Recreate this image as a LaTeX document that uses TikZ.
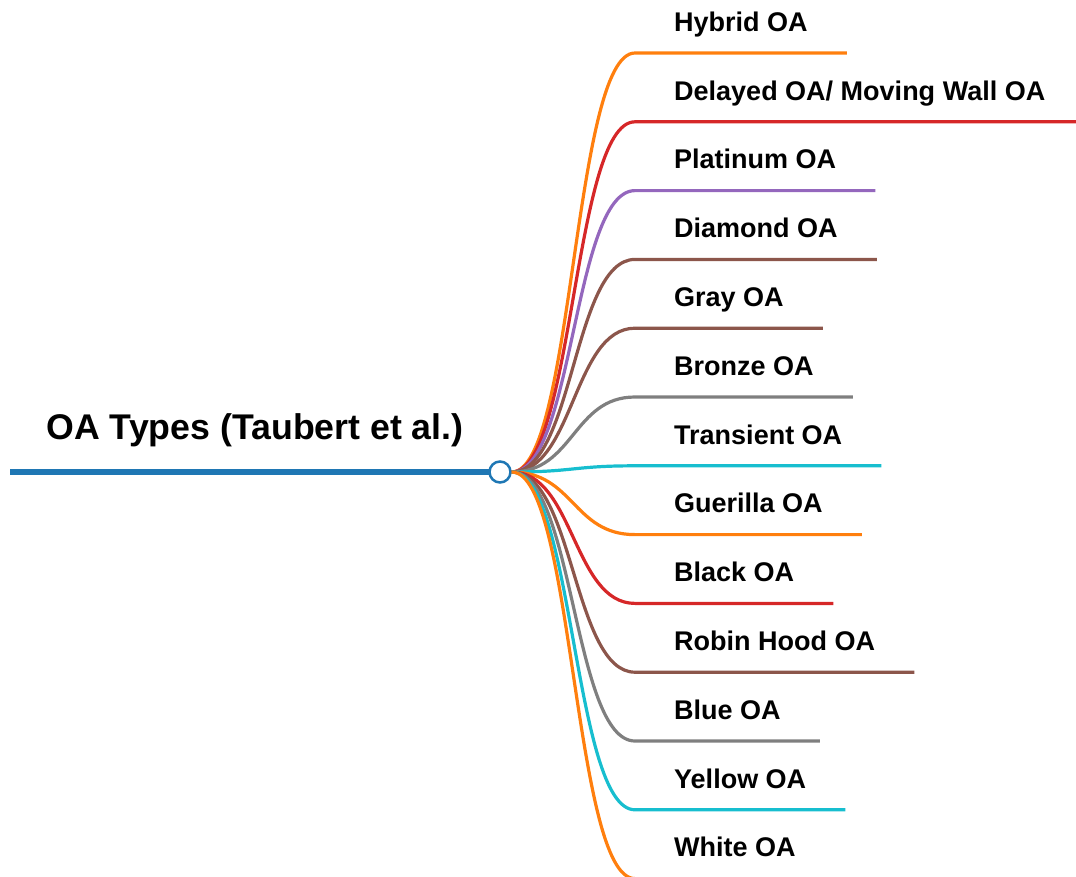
\documentclass[tikz,border=0pt]{standalone}
\usepackage{fontspec}
\setmainfont{Liberation Sans}
\definecolor{mapblue}{HTML}{1F77B4}
\definecolor{maporange}{HTML}{FF7F0E}
\definecolor{mapred}{HTML}{D62728}
\definecolor{mappurple}{HTML}{9467BD}
\definecolor{mapbrown}{HTML}{8C564B}
\definecolor{mapgray}{HTML}{7F7F7F}
\definecolor{mapcyan}{HTML}{17BECF}
\begin{document}
\begin{tikzpicture}[x=1pt,y=-1pt,
leaf/.style={anchor=south west,inner xsep=39pt,inner ysep=16pt,text height=19.5pt,text depth=5.5pt,
  font=\fontsize{27}{30}\selectfont\bfseries},
branch/.style={line width=3.2pt},
hub/.style={draw=mapblue,fill=white,circle,line width=2.5pt,minimum size=21pt,inner sep=0pt},
rootline/.style={draw=mapblue,line width=6.5pt},
title/.style={font=\fontsize{35.7}{40}\selectfont\bfseries}]
\useasboundingbox (0,0) rectangle (1076,876);
\coordinate (rootstart) at (10,472);
\draw[rootline] (rootstart) -- (490,472);
\node[hub] (hub) at (500,472) {};
\node[title] (title) at (255,430) {OA Types (Taubert et al.)};
% leaves
\node[leaf] (hybrid) at (635,53) {Hybrid OA};
\node[leaf] (delayed) at (635,121.8) {Delayed OA/ Moving Wall OA};
\node[leaf] (platinum) at (635,190.6) {Platinum OA};
\node[leaf] (diamond) at (635,259.4) {Diamond OA};
\node[leaf] (gray) at (635,328.2) {Gray OA};
\node[leaf] (bronze) at (635,397) {Bronze OA};
\node[leaf] (transient) at (635,465.8) {Transient OA};
\node[leaf] (guerilla) at (635,534.6) {Guerilla OA};
\node[leaf] (black) at (635,603.4) {Black OA};
\node[leaf] (robin) at (635,672.2) {Robin Hood OA};
\node[leaf] (blue) at (635,741) {Blue OA};
\node[leaf] (yellow) at (635,809.8) {Yellow OA};
\node[leaf] (white) at (635,878.6) {White OA};
% branches
\draw[branch,maporange] (hub.east) .. controls +(62,0) and +(-62,0) .. (hybrid.south west) -- (hybrid.south east);
\draw[branch,mapred] (hub.east) .. controls +(62,0) and +(-62,0) .. (delayed.south west) -- (delayed.south east);
\draw[branch,mappurple] (hub.east) .. controls +(62,0) and +(-62,0) .. (platinum.south west) -- (platinum.south east);
\draw[branch,mapbrown] (hub.east) .. controls +(62,0) and +(-62,0) .. (diamond.south west) -- (diamond.south east);
\draw[branch,mapbrown] (hub.east) .. controls +(62,0) and +(-62,0) .. (gray.south west) -- (gray.south east);
\draw[branch,mapgray] (hub.east) .. controls +(62,0) and +(-62,0) .. (bronze.south west) -- (bronze.south east);
\draw[branch,mapcyan] (hub.east) .. controls +(62,0) and +(-62,0) .. (transient.south west) -- (transient.south east);
\draw[branch,maporange] (hub.east) .. controls +(62,0) and +(-62,0) .. (guerilla.south west) -- (guerilla.south east);
\draw[branch,mapred] (hub.east) .. controls +(62,0) and +(-62,0) .. (black.south west) -- (black.south east);
\draw[branch,mapbrown] (hub.east) .. controls +(62,0) and +(-62,0) .. (robin.south west) -- (robin.south east);
\draw[branch,mapgray] (hub.east) .. controls +(62,0) and +(-62,0) .. (blue.south west) -- (blue.south east);
\draw[branch,mapcyan] (hub.east) .. controls +(62,0) and +(-62,0) .. (yellow.south west) -- (yellow.south east);
\draw[branch,maporange] (hub.east) .. controls +(62,0) and +(-62,0) .. (white.south west) -- (white.south east);
\end{tikzpicture}
\end{document}
